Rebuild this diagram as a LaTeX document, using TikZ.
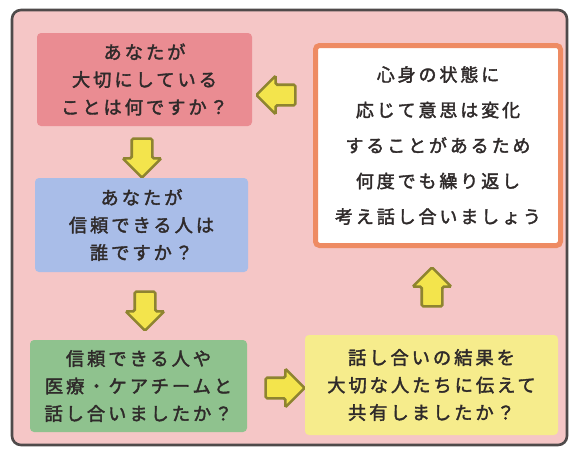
\documentclass[tikz,border=0pt]{standalone}
\usepackage{fontspec}
\usetikzlibrary{shapes.arrows}
\newfontfamily\jpfont[LetterSpace=16, FakeBold=2]{Noto Sans CJK JP}
\definecolor{framepink}{HTML}{F5C6C6}
\definecolor{framegray}{HTML}{4F4A4A}
\definecolor{boxred}{HTML}{EA8C92}
\definecolor{boxblue}{HTML}{A9BDE8}
\definecolor{boxgreen}{HTML}{8FC28E}
\definecolor{boxyellow}{HTML}{F6EC8C}
\definecolor{boxorange}{HTML}{EE8B63}
\definecolor{arrowfill}{HTML}{F3E44C}
\definecolor{arrowedge}{HTML}{8E8430}
\definecolor{textgray}{HTML}{2F2A2A}
\tikzset{
  qbox/.style={rectangle, rounded corners=4pt, inner sep=0pt, align=center,
    text=textgray, font=\jpfont\fontsize{18.3}{27.5}\selectfont},
  flowarrow/.style={single arrow, draw=arrowedge, fill=arrowfill, line width=2.6pt,
    minimum height=39pt, inner xsep=0pt, inner ysep=9pt,
    single arrow head extend=9pt, single arrow head indent=0pt,
    rounded corners=1.5pt}
}
\begin{document}
\begin{tikzpicture}[x=1pt,y=-1pt]
\useasboundingbox (0,0) rectangle (575,455);
\fill[white] (0,0) rectangle (575,455);
\draw[framegray, fill=framepink, line width=2.6pt, rounded corners=9pt] (12,10) rectangle (567,445);

\node[qbox, fill=boxred, minimum width=215pt, minimum height=93pt] (q1) at (144.5,79.5)
  {あなたが\\大切にしている\\ことは何ですか？};
\node[qbox, fill=boxblue, minimum width=213pt, minimum height=94pt] (q2) at (141.5,225)
  {あなたが\\信頼できる人は\\誰ですか？};
\node[qbox, fill=boxgreen, minimum width=217pt, minimum height=92pt] (q3) at (138.5,386)
  {信頼できる人や\\医療・ケアチームと\\話し合いましたか？};
\node[qbox, fill=boxyellow, minimum width=253pt, minimum height=100pt] (q4) at (431.5,385)
  {話し合いの結果を\\大切な人たちに伝えて\\共有しましたか？};
\node[qbox, fill=white, draw=boxorange, line width=5pt, minimum width=245pt, minimum height=200pt,
  font=\jpfont\fontsize{18}{35.5}\selectfont] (q5) at (438,145.5)
  {心身の状態に\\応じて意思は変化\\することがあるため\\何度でも繰り返し\\考え話し合いましょう};

\node[flowarrow, rotate=-90] (a1) at (142,153) {};
\node[flowarrow, rotate=-90] (a2) at (145,306) {};
\node[flowarrow] (a3) at (280,388) {};
\node[flowarrow, rotate=90] (a4) at (432,292) {};
\node[flowarrow, rotate=180] (a5) at (281,95) {};
\end{tikzpicture}
\end{document}
